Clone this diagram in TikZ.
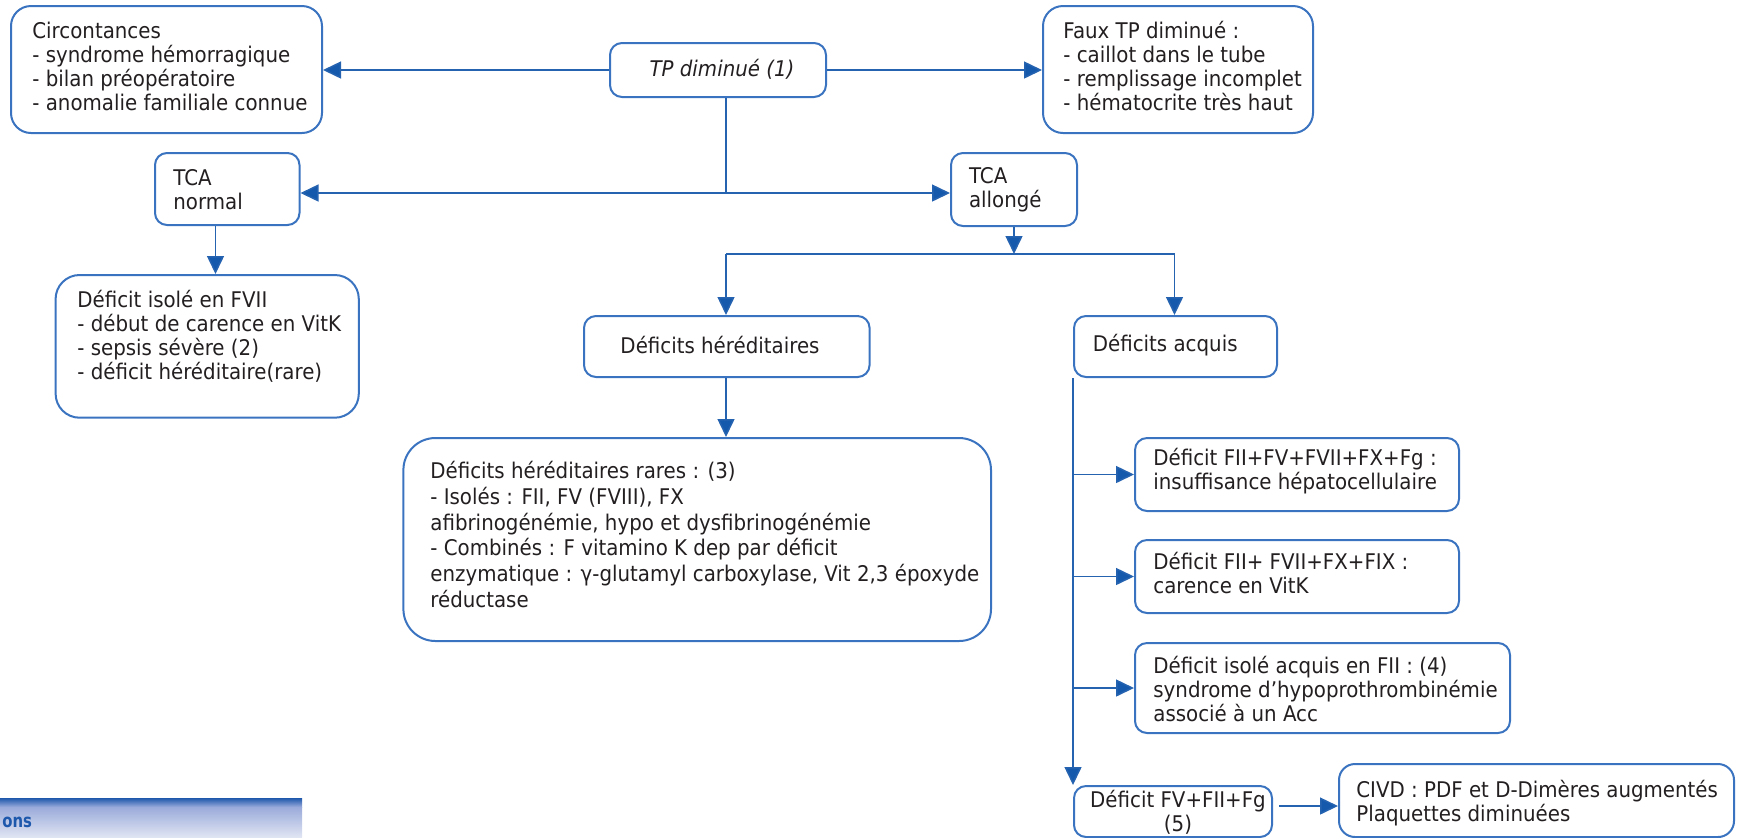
\documentclass[tikz,border=0pt]{standalone}
\usepackage{fontspec}
\setmainfont{DejaVu Sans}[FakeStretch=0.917]
\newfontfamily\barfont{DejaVu Sans}[FakeStretch=0.8]
\usetikzlibrary{arrows.meta}
\definecolor{linec}{HTML}{2563B0}
\definecolor{headc}{HTML}{1559AD}
\definecolor{boxc}{HTML}{3A73BF}
\definecolor{txtc}{HTML}{231F20}
\definecolor{barTop}{HTML}{1E58AC}
\definecolor{barMid}{HTML}{9AAADA}
\definecolor{barBot}{HTML}{E0E5F3}
\begin{document}
\begin{tikzpicture}[x=0.5pt,y=-0.5pt,
  box/.style={draw=boxc, line width=1pt, rounded corners=#1, inner sep=0pt, anchor=north west},
  box/.default=6pt,
  txt/.style={text=txtc, align=left, anchor=west, inner sep=0pt, font=\fontsize{10.8}{12}\selectfont},
  ctxt/.style={text=txtc, align=center, anchor=center, inner sep=0pt, font=\fontsize{10.8}{12}\selectfont},
  ln/.style={draw=linec, line width=0.75pt},
  arr/.style={ln, -{Triangle[length=9pt,width=8.5pt,fill=headc]}}]
\useasboundingbox (0,0) rectangle (1739,837);

% boxes
\node[box=10pt, minimum width=155.5pt, minimum height=63.5pt] (circ) at (10,5) {};
\node[box=6pt, minimum width=108pt, minimum height=27pt] (tp) at (609,42) {};
\node[box=10pt, minimum width=135pt, minimum height=63.5pt] (faux) at (1042,5) {};
\node[box=6pt, minimum width=72.25pt, minimum height=36pt] (tcan) at (154,152) {};
\node[box=6pt, minimum width=63pt, minimum height=36.5pt] (tcaa) at (950,152) {};
\node[box=12pt, minimum width=151.6pt, minimum height=71.35pt] (iso) at (54.6,274) {};
\node[box=6pt, minimum width=142.8pt, minimum height=30.5pt] (hered) at (583,315) {};
\node[box=6pt, minimum width=101.5pt, minimum height=30.5pt] (acq) at (1073,315) {};
\node[box=16pt, minimum width=293.8pt, minimum height=101.5pt] (rares) at (402.4,437) {};
\node[box=6pt, minimum width=162pt, minimum height=36.5pt] (b1) at (1134,437) {};
\node[box=6pt, minimum width=162pt, minimum height=36.5pt] (b2) at (1134,539) {};
\node[box=6pt, minimum width=187.5pt, minimum height=45pt] (b3) at (1134,642) {};
\node[box=6pt, minimum width=99pt, minimum height=25.5pt] (b4) at (1073,785) {};
\node[box=8pt, minimum width=197.5pt, minimum height=36.5pt] (civd) at (1338,763) {};

% texts
\node[txt] (tcirc) at (32,66.5) {Circontances\\- syndrome hémorragique\\- bilan préopératoire\\- anomalie familiale connue};
\node[ctxt, font=\fontsize{10.8}{12}\selectfont\itshape] (ttp) at (722,69) {TP diminué (1)};
\node[txt] (tfaux) at (1063,66.5) {Faux TP diminué :\\- caillot dans le tube\\- remplissage incomplet\\- hématocrite très haut};
\node[txt] (ttcan) at (173,190) {TCA\\normal};
\node[txt] (ttcaa) at (968.6,190) {TCA\\allongé};
\node[txt] (tiso) at (77,336.5) {Déficit isolé en FVII\\- début de carence en VitK\\- sepsis sévère (2)\\- déficit héréditaire(rare)};
\node[ctxt] (thered) at (720,345) {Déficits héréditaires};
\node[txt] (tacq) at (1092.5,345) {Déficits acquis};
\node[txt, font=\fontsize{10.8}{12.9}\selectfont] (trares) at (430,534.5) {Déficits héréditaires rares : (3)\\- Isolés : FII, FV (FVIII), FX\\afibrinogénémie, hypo et dysfibrinogénémie\\- Combinés : F vitamino K dep par déficit\\enzymatique : γ-glutamyl carboxylase, Vit 2,3 époxyde\\réductase};
\node[txt] (tb1) at (1153,471.5) {Déficit FII+FV+FVII+FX+Fg :\\insuffisance hépatocellulaire};
\node[txt] (tb2) at (1153,573) {Déficit FII+ FVII+FX+FIX :\\carence en VitK};
\node[txt] (tb3) at (1153,689) {Déficit isolé acquis en FII : (4)\\syndrome d’hypoprothrombinémie\\associé à un Acc};
\node[ctxt] (tb4) at (1178,812.5) {Déficit FV+FII+Fg\\(5)};
\node[txt] (tcivd) at (1356,803) {CIVD : PDF et D-Dimères augmentés\\Plaquettes diminuées};

% connectors
\coordinate (j1) at (726,193);
\coordinate (j2l) at (726,254);
\coordinate (j2r) at (1174.5,254);
\coordinate (xa) at (215.5,0);
\draw[arr] (tp.west) -- (tp.west -| circ.east);
\draw[arr] (tp.east) -- (tp.east -| faux.west);
\draw[ln] (tp.south -| j1) -- (j1);
\draw[arr] (j1) -- (j1 -| tcan.east);
\draw[arr] (j1) -- (j1 -| tcaa.west);
\draw[arr] (tcan.south -| xa) -- (iso.north -| xa);
\draw[arr] (tcaa.south) -- (tcaa.south |- j2l);
\draw[ln] (j2l) -- (j2r);
\draw[arr] (j2l) -- (j2l |- hered.north);
\draw[arr] (j2r) -- (j2r |- acq.north);
\draw[arr] (hered.south -| j2l) -- (rares.north -| j2l);
\draw[arr] (acq.south west) -- (acq.south west |- b4.north);
\draw[arr] (acq.south west |- b1.west) -- (b1.west);
\draw[arr] (acq.south west |- b2.west) -- (b2.west);
\draw[arr] (acq.south west |- b3.west) -- (b3.west);
\draw[arr, shorten <=3pt] ([yshift=2.75pt]b4.east) -- ([yshift=2.75pt]b4.east -| civd.west);

% bottom-left banner
\shade[top color=barTop, bottom color=barMid] (0,798) rectangle (302,807);
\shade[top color=barMid, bottom color=barBot] (0,807) rectangle (302,837);
\node[font=\barfont\bfseries\fontsize{9.3}{10}\selectfont, text=barTop, anchor=west, inner sep=0pt] (ons) at (2,822) {ons};
\end{tikzpicture}
\end{document}
